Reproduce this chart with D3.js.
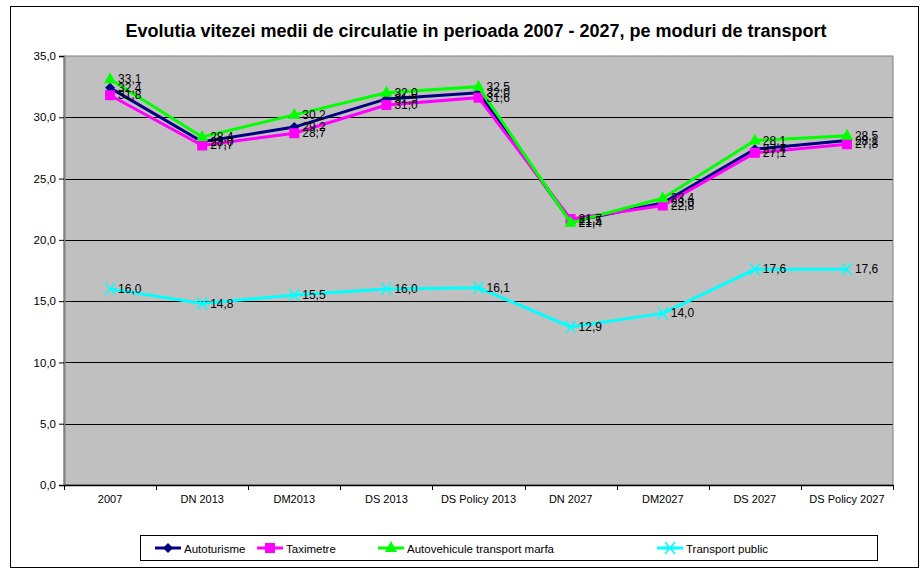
<!DOCTYPE html>
<html>
<head>
<meta charset="utf-8">
<script src="https://cdn.jsdelivr.net/npm/d3@7"></script>
<style>
  body { margin: 0; background: #fff; }
  text { font-family: "Liberation Sans", Arial, sans-serif; fill: #000; }
</style>
</head>
<body>
<svg id="chart" width="921" height="570"></svg>
<script>
// data
var categories = ["2007", "DN 2013", "DM2013", "DS 2013", "DS Policy 2013", "DN 2027", "DM2027", "DS 2027", "DS Policy 2027"];
var autoturisme = [32.4, 28.0, 29.2, 31.5, 32.0, 21.5, 23.0, 27.4, 28.1];
var taximetre = [31.8, 27.7, 28.7, 31.0, 31.6, 21.7, 22.8, 27.1, 27.8];
var marfa = [33.1, 28.4, 30.2, 32.0, 32.5, 21.4, 23.4, 28.1, 28.5];
var transportPublic = [16.0, 14.8, 15.5, 16.0, 16.1, 12.9, 14.0, 17.6, 17.6];
var yTicks = [0, 5, 10, 15, 20, 25, 30, 35];

var series = [
  { name: "Autoturisme", values: autoturisme, color: "#000080", marker: "diamond" },
  { name: "Taximetre", values: taximetre, color: "#ff00ff", marker: "square" },
  { name: "Autovehicule transport marfa", values: marfa, color: "#00ff00", marker: "triangle" },
  { name: "Transport public", values: transportPublic, color: "#00ffff", marker: "cross" }
];

var svg = d3.select("#chart");
var plotLeft = 64, plotRight = 893, plotTop = 56, plotBottom = 485;
var fmt = function(v) { return d3.format(".1f")(v).replace(".", ","); };

// outer frame
svg.append("rect")
  .attr("x", 10.5).attr("y", 6.5)
  .attr("width", 908).attr("height", 561)
  .attr("fill", "#fff").attr("stroke", "#000").attr("stroke-width", 1);

svg.append("text")
  .attr("x", 476).attr("y", 37)
  .attr("text-anchor", "middle")
  .style("font-size", "18px").style("font-weight", "bold")
  .text("Evolutia vitezei medii de circulatie in perioada 2007 - 2027, pe moduri de transport");

var x = d3.scaleBand().domain(categories).range([plotLeft, plotRight]);
var y = d3.scaleLinear().domain([0, 35]).range([plotBottom, plotTop]);
var cx = function(i) { return x(categories[i]) + x.bandwidth() / 2; };

// plot area
svg.append("rect")
  .attr("x", plotLeft).attr("y", plotTop)
  .attr("width", plotRight - plotLeft).attr("height", plotBottom - plotTop)
  .attr("fill", "#c0c0c0");

svg.append("g")
  .selectAll("line")
  .data(yTicks.filter(d => d > 0 && d < 35))
  .enter()
  .append("line")
    .attr("x1", plotLeft).attr("x2", plotRight)
    .attr("y1", d => Math.round(y(d)) + 0.5).attr("y2", d => Math.round(y(d)) + 0.5)
    .attr("stroke", "#000").attr("stroke-width", 1);

svg.append("rect")
  .attr("x", plotLeft).attr("y", plotTop)
  .attr("width", plotRight - plotLeft).attr("height", plotBottom - plotTop)
  .attr("fill", "none").attr("stroke", "#808080").attr("stroke-width", 1);

// y axis
var leftAxis = d3.axisLeft(y).tickValues(yTicks).tickFormat(fmt).tickSize(5).tickPadding(3);
var yAxis = svg.append("g")
  .attr("transform", `translate(${plotLeft}, 0)`)
  .call(leftAxis);
yAxis.select(".domain").attr("stroke", "#808080").attr("stroke-width", 2);
yAxis.selectAll("text").style("font-size", "11.5px");

// x axis: ticks on category boundaries
var bottomAxis = d3.axisBottom(x).tickSize(0).tickPadding(10);
var xAxis = svg.append("g")
  .attr("transform", `translate(0, ${plotBottom})`)
  .call(bottomAxis);
xAxis.select(".domain").attr("stroke", "#000").attr("stroke-width", 1.5);
xAxis.selectAll("text").style("font-size", "11px");
xAxis.selectAll(".bound")
  .data(categories.concat(["end"]))
  .enter()
  .append("line")
    .attr("x1", (d, i) => Math.round(plotLeft + i * x.bandwidth()) + 0.5)
    .attr("x2", (d, i) => Math.round(plotLeft + i * x.bandwidth()) + 0.5)
    .attr("y1", 0).attr("y2", 5)
    .attr("stroke", "#000");

// marker shapes
function drawMarker(g, type, color, px, py) {
  if (type === "diamond") {
    g.append("path")
      .attr("d", `M${px},${py - 5}L${px + 5},${py}L${px},${py + 5}L${px - 5},${py}Z`)
      .attr("fill", color);
  } else if (type === "square") {
    g.append("rect")
      .attr("x", px - 5).attr("y", py - 5).attr("width", 10).attr("height", 10)
      .attr("fill", color);
  } else if (type === "triangle") {
    g.append("path")
      .attr("d", `M${px},${py - 7}L${px + 6},${py + 4}L${px - 6},${py + 4}Z`)
      .attr("fill", color);
  } else {
    g.append("path")
      .attr("d", `M${px - 5},${py - 6}L${px + 5},${py + 6}M${px + 5},${py - 6}L${px - 5},${py + 6}`)
      .attr("stroke", color).attr("stroke-width", 1.5).attr("fill", "none");
  }
}

var line = d3.line().x((d, i) => cx(i)).y(d => y(d));

series.forEach(function(s) {
  var g = svg.append("g");
  g.append("path")
    .datum(s.values)
    .attr("d", line)
    .attr("fill", "none")
    .attr("stroke", s.color)
    .attr("stroke-width", 3);
  s.values.forEach(function(v, i) { drawMarker(g, s.marker, s.color, cx(i), y(v)); });
});

// data labels
series.forEach(function(s) {
  svg.append("g")
    .selectAll("text")
    .data(s.values)
    .enter()
    .append("text")
      .attr("x", (d, i) => cx(i) + 8)
      .attr("y", d => y(d) + 4)
      .style("font-size", "12px")
      .text(d => fmt(d));
});

// legend
var legend = svg.append("g");
legend.append("rect")
  .attr("x", 140.5).attr("y", 535.5)
  .attr("width", 737).attr("height", 25)
  .attr("fill", "#fff").attr("stroke", "#000");
var legendX = [155, 257, 378, 657];
series.forEach(function(s, i) {
  var lx = legendX[i], ly = 548;
  legend.append("line")
    .attr("x1", lx).attr("x2", lx + 26).attr("y1", ly).attr("y2", ly)
    .attr("stroke", s.color).attr("stroke-width", 3);
  drawMarker(legend, s.marker, s.color, lx + 13, ly);
  legend.append("text")
    .attr("x", lx + 29).attr("y", ly + 4.5)
    .style("font-size", "11.5px")
    .text(s.name);
});
</script>
</body>
</html>
